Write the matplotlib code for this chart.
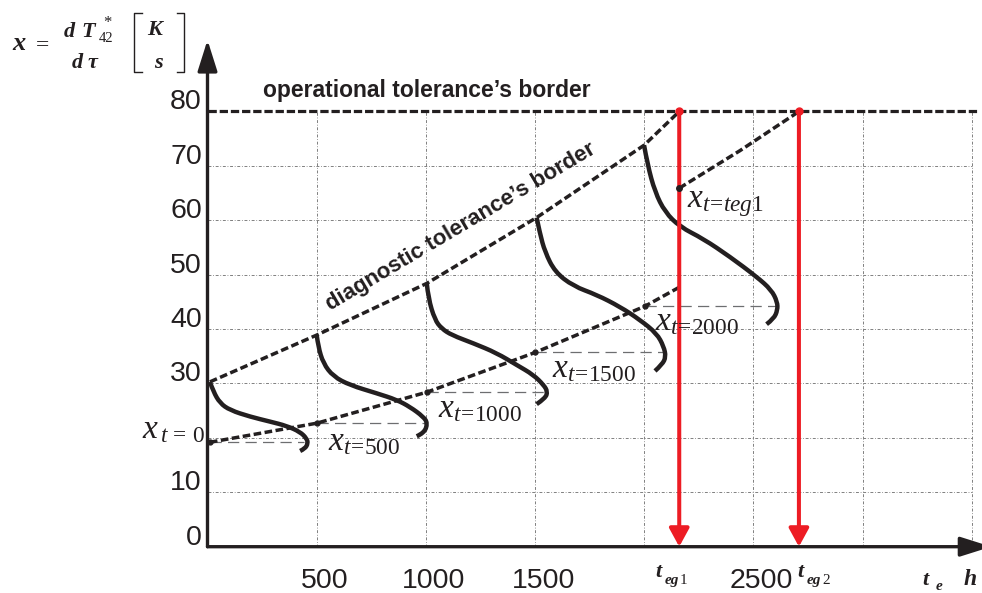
import numpy as np
import matplotlib
matplotlib.use('Agg')
import matplotlib.pyplot as plt
from matplotlib.transforms import ScaledTranslation
from matplotlib.lines import Line2D
from matplotlib.path import Path
from matplotlib.patches import PathPatch

plt.rcParams['font.family'] = ['Liberation Sans', 'DejaVu Sans']
plt.rcParams['mathtext.fontset'] = 'custom'
plt.rcParams['mathtext.it'] = 'Liberation Serif:italic'
plt.rcParams['mathtext.rm'] = 'Liberation Serif'
plt.rcParams['mathtext.bf'] = 'Liberation Serif:bold'

# ---------------- data ----------------
x_tick_values = [500, 1000, 1500, 2500]
x_tick_labels = ['500', '1000', '1500', '2500']
y_tick_values = [0, 10, 30, 40, 50, 60, 70, 80]
y_tick_labels = ['0', '10', '30', '40', '50', '60', '70', '80']
grid_x = [500, 1000, 1500, 2000, 2500, 3000, 3500]
grid_y = [10, 20, 30, 40, 50, 60, 70]
operational_limit = 80

t_starts = [0, 500, 1000, 1500, 2000]
x_t_values = [19.2, 22.7, 28.4, 35.7, 44.2]
x_t_names = ['\\,t\\,=\\,0', 't\\!=\\!500', 't\\!=\\!1000', 't\\!=\\!1500', 't\\!=\\!2000']
ref_line_start = [11, 500, 1004, 1500, 2003]
ref_line_end = [440, 1004, 1553, 2095, 2606]

diag_border_t = [11, 500, 1004, 1507, 1999, 2160]
diag_border_y = [30.3, 38.9, 48.4, 60.5, 73.8, 80.0]
lower_border_t = [11, 500, 1004, 1500, 2003, 2165]
lower_border_y = [19.2, 22.7, 28.4, 35.7, 44.2, 47.8]
teg1_border_t = [2160, 2438, 2708]
teg1_border_y = [65.9, 72.8, 80.0]
t_eg = [2160, 2708]

c0_t = [11, 27, 57, 103, 195, 286, 363, 424, 454, 460, 446, 424]
c0_y = [30.3, 28.5, 26.4, 25.1, 23.9, 23.0, 22.2, 21.1, 19.9, 19.0, 18.0, 17.6]
c500_t = [500, 507, 530, 576, 652, 775, 866, 927, 988, 1008, 992, 958]
c500_y = [38.9, 36.8, 33.7, 31.3, 29.7, 28.2, 27.0, 25.7, 23.9, 22.7, 20.9, 20.3]
c1000_t = [1004, 1011, 1041, 1072, 1118, 1217, 1324, 1416, 1492, 1540, 1557, 1547, 1507]
c1000_y = [48.4, 45.7, 41.7, 40.1, 38.9, 37.4, 35.6, 33.4, 31.6, 29.7, 28.5, 27.3, 26.2]
c1500_t = [1507, 1522, 1545, 1591, 1675, 1782, 1889, 1980, 2057, 2089, 2099, 2082, 2049]
c1500_y = [60.5, 57.6, 54.2, 50.5, 47.9, 46.3, 44.1, 41.7, 39.2, 36.8, 34.9, 33.5, 32.3]
c2000_t = [1999, 2015, 2049, 2095, 2163, 2270, 2392, 2515, 2582, 2609, 2610, 2593, 2560]
c2000_y = [73.8, 70.2, 65.2, 61.5, 58.8, 56.6, 53.3, 49.6, 47.2, 45.0, 43.5, 41.9, 40.9]
curves = [(c0_t, c0_y), (c500_t, c500_y), (c1000_t, c1000_y),
          (c1500_t, c1500_y), (c2000_t, c2000_y)]

# ---------------- figure ----------------
W, H = 982, 593
fig = plt.figure(figsize=(W / 100, H / 100), dpi=100)
ax = fig.add_axes([207.5 / W, 1 - 546.7 / H, (W - 207.5) / W, (546.7 - 40) / H])
ax.set_xlim(0, 3546.3)
ax.set_ylim(0, 93.14)
for s in ax.spines.values():
    s.set_visible(False)

INK = '#231f20'
RED = '#ed1c24'
GRID = '#808080'


def fx(px):
    return px / W


def fy(py):
    return 1 - py / H


def smooth_path(xs, ys):
    """Quadratic B-spline style path using the read points as control points."""
    pts = np.column_stack([xs, ys]).astype(float)
    verts = [pts[0]]
    codes = [Path.MOVETO]
    n = len(pts)
    for i in range(1, n - 1):
        end = pts[i + 1] if i == n - 2 else (pts[i] + pts[i + 1]) / 2
        verts += [pts[i], end]
        codes += [Path.CURVE3, Path.CURVE3]
    return Path(verts, codes)


# grid
ax.vlines(grid_x, 0, operational_limit, colors=GRID, lw=0.7,
          linestyles=[(0, (3, 1.8, 0.8, 1.8))], zorder=1)
ax.hlines(grid_y, 0, 3500, colors=GRID, lw=0.7,
          linestyles=[(0, (3, 1.8, 0.8, 1.8))], zorder=1)

# operational tolerance border
ax.hlines(operational_limit, 0, 3525, colors=INK, lw=2.3,
          linestyles=[(0, (2.6, 0.9))], zorder=3)

# reference horizontal dashed lines
ax.hlines(x_t_values, ref_line_start, ref_line_end, colors='#6d6e70', lw=0.9,
          linestyles=[(0, (9, 5))], zorder=2)

# borders
for bt, by in [(diag_border_t, diag_border_y), (lower_border_t, lower_border_y),
               (teg1_border_t, teg1_border_y)]:
    ax.plot(bt, by, color=INK, lw=2.5, ls=(0, (2.2, 1.0)), zorder=4)
ax.plot(lower_border_t[:5], lower_border_y[:5], ls='none', marker='o', ms=3.5, color=INK, zorder=5)
ax.plot(teg1_border_t[:1], teg1_border_y[:1], ls='none', marker='o', ms=4, color=INK, zorder=7)

# S-curves
for ct, cy in curves:
    ax.add_patch(PathPatch(smooth_path(ct, cy), facecolor='none', edgecolor=INK,
                           lw=3.2, joinstyle='round', capstyle='butt', zorder=5))

# red arrows
for t in t_eg:
    ax.annotate('', xy=(t, 0), xytext=(t, operational_limit),
                arrowprops=dict(arrowstyle='-|>,head_length=0.55,head_width=0.3',
                                color=RED, lw=2.9, shrinkA=0, shrinkB=0,
                                mutation_scale=20), zorder=6)
    ax.plot([t], [operational_limit], 'o', color=RED, ms=5, zorder=7)

# axes arrows
ax.annotate('', xy=(0, 1.0), xytext=(0, 0), xycoords='axes fraction',
            arrowprops=dict(arrowstyle='-|>,head_length=0.95,head_width=0.3',
                            color=INK, lw=2.4, shrinkA=0, shrinkB=0,
                            mutation_scale=20), annotation_clip=False)
ax.annotate('', xy=(1.012, 0), xytext=(0, 0), xycoords='axes fraction',
            arrowprops=dict(arrowstyle='-|>,head_length=0.95,head_width=0.3',
                            color=INK, lw=2.4, shrinkA=0, shrinkB=0,
                            mutation_scale=20), annotation_clip=False)

# ticks
ax.set_xticks(x_tick_values)
ax.set_xticklabels(x_tick_labels)
ax.set_yticks(y_tick_values)
ax.set_yticklabels(y_tick_labels)
ax.tick_params(axis='both', length=0, labelsize=20.5, colors=INK)
ax.tick_params(axis='y', pad=4.0)
ax.tick_params(axis='x', pad=15.5)
for lab in ax.get_yticklabels():
    lab.set_transform(lab.get_transform() + ScaledTranslation(0, 0.12, fig.dpi_scale_trans))
for lab in ax.get_xticklabels():
    lab.set_transform(lab.get_transform() + ScaledTranslation(0.08, 0, fig.dpi_scale_trans))

# border titles
fig.text(fx(263), fy(97), "operational tolerance\u2019s border", fontsize=16.5,
         fontweight='bold', color=INK, ha='left', va='baseline')
fig.text(fx(330), fy(311), "diagnostic tolerance\u2019s border", fontsize=16,
         fontweight='bold', color=INK, ha='left', va='baseline', rotation=30.7,
         rotation_mode='anchor')

# x_t labels
label_pos = [(142, 438), (328, 450), (438, 417), (552, 377), (655, 330)]
for (px, py), nm in zip(label_pos, x_t_names):
    fig.text(fx(px), fy(py), '$x_{' + nm + '}$', fontsize=24, color=INK,
             ha='left', va='baseline')
fig.text(fx(687), fy(207), '$x_{t\\!=\\!teg1}$', fontsize=24, color=INK,
         ha='left', va='baseline')

serif_bi = dict(family='Liberation Serif', fontweight='bold', fontstyle='italic', color=INK)
serif_r = dict(family='Liberation Serif', color=INK)

# bottom labels t_eg1, t_eg2, t_e, h
for px, sub in [(655, '1'), (797, '2')]:
    fig.text(fx(px), fy(577), 't', fontsize=16, ha='left', va='baseline', **serif_bi)
    fig.text(fx(px + 10), fy(584), 'eg', fontsize=11, ha='left', va='baseline', **serif_bi)
    fig.text(fx(px + 25), fy(584), sub, fontsize=11, ha='left', va='baseline', **serif_r)
fig.text(fx(922), fy(585), 't', fontsize=16, ha='left', va='baseline', **serif_bi)
fig.text(fx(936), fy(590), 'e', fontsize=11, ha='left', va='baseline', **serif_bi)
fig.text(fx(964), fy(585), 'h', fontsize=17, ha='left', va='baseline', **serif_bi)

# y axis quantity label
fig.text(fx(12), fy(50), 'x', fontsize=19, ha='left', va='baseline', **serif_bi)
fig.text(fx(36), fy(51), '=', fontsize=17, ha='left', va='baseline', **serif_r)
fig.text(fx(64), fy(37), 'd', fontsize=16, ha='left', va='baseline', **serif_bi)
fig.text(fx(81), fy(37), 'T', fontsize=16, ha='left', va='baseline', **serif_bi)
fig.text(fx(103), fy(27), '*', fontsize=12, ha='left', va='baseline', **serif_r)
fig.text(fx(99), fy(42), '42', fontsize=10.5, ha='left', va='baseline', **serif_r)
fig.text(fx(72), fy(68), 'd', fontsize=16, ha='left', va='baseline', **serif_bi)
fig.text(fx(88), fy(68), '\u03c4', fontsize=16, ha='left', va='baseline', **serif_bi)
fig.text(fx(147), fy(35), 'K', fontsize=16, ha='left', va='baseline', **serif_bi)
fig.text(fx(154), fy(68), 's', fontsize=16, ha='left', va='baseline', **serif_bi)
for xv, xs in [(134, 141.5), (184.3, 176.8)]:
    fig.add_artist(Line2D([fx(xs), fx(xv), fx(xv), fx(xs)],
                          [fy(13.3), fy(13.3), fy(71.7), fy(71.7)],
                          color=INK, lw=1.0))

fig.savefig('out.png', dpi=100)
